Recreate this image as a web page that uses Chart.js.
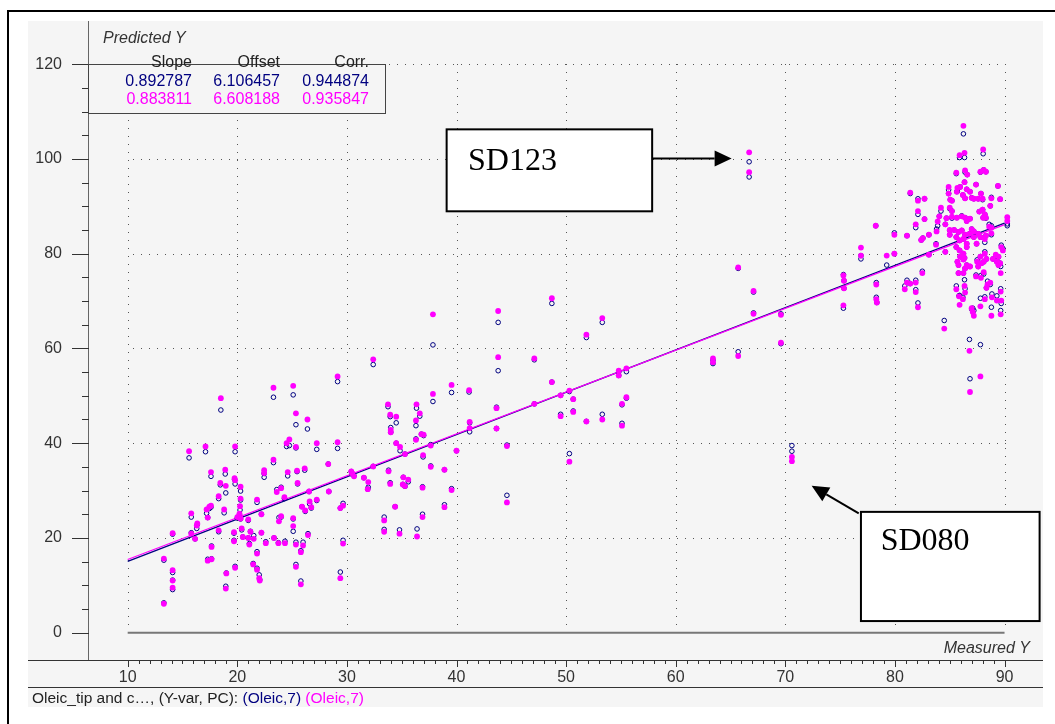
<!DOCTYPE html>
<html>
<head>
<meta charset="utf-8">
<script src="https://cdn.jsdelivr.net/npm/chart.js@4.4.1/dist/chart.umd.min.js"></script>
<style>
  html, body { margin: 0; padding: 0; background: #fff; overflow: hidden; }
  canvas { display: block; }
</style>
</head>
<body>
<canvas id="plot" width="1055" height="724"></canvas>
<script>
// Measured oleic content of each sample (x) and its prediction by two PLS models (y)
const measured = [
  18.5,23.3,25.1,25.35,26.4,15.6,17.1,19.8,24.75,24.5,
  27.25,17.6,18.9,18.45,18.95,18.3,19.8,19.75,20.3,20.3,
  22.45,22.45,23.3,24.6,25.45,25.5,26.15,23.6,24.0,24.3,
  25.9,26.2,26.6,26.75,27.25,25.1,25.1,23.8,24.0,21.8,
  22.2,21.0,20.25,20.2,20.0,20.4,19.7,19.7,18.8,17.2,
  17.45,17.6,17.3,15.8,16.3,16.35,18.3,15.8,16.15,14.1,
  17.65,17.3,17.65,13.3,14.1,14.1,14.1,13.3,19.0,18.95,
  19.8,20.5,21.0,21.2,21.5,21.1,21.45,21.8,22.0,22.05,
  21.8,22.2,22.6,23.35,23.75,24.35,25.35,26.0,25.8,25.35,
  25.8,26.45,25.35,20.3,29.15,29.15,32.4,37.85,39.55,41.15,
  37.85,33.75,33.95,34.5,34.0,34.0,36.35,36.65,36.3,36.3,
  36.8,37.0,34.5,34.85,35.3,36.95,37.65,37.65,40.0,38.9,
  41.2,41.2,30.4,30.5,30.65,32.4,31.55,31.95,31.9,33.8,
  33.95,35.15,35.6,35.3,35.1,36.9,39.55,34.4,38.9,36.9,
  33.4,33.4,34.8,36.4,29.65,29.65,29.4,28.3,28.35,26.55,
  29.4,66.7,66.7,65.7,67.1,67.1,65.7,63.4,63.4,43.8,
  43.8,48.7,47.1,48.7,51.85,53.3,43.65,43.65,44.6,47.1,
  49.5,50.3,50.65,49.5,50.65,50.3,51.85,53.3,54.8,54.8,
  55.5,55.5,55.1,55.1,44.6,69.6,69.6,70.6,70.6,75.3,
  75.35,75.35,75.3,76.9,76.9,78.25,78.3,78.3,78.35,79.25,
  79.95,79.95,81.1,81.4,80.9,81.1,81.4,81.9,81.9,82.1,
  82.1,82.7,82.1,81.9,82.7,82.4,82.55,83.1,82.5,83.8,
  83.75,83.1,84.2,84.05,84.5,84.6,85.0,85.0,85.2,84.9,
  84.9,85.05,85.2,85.7,85.95,85.65,85.6,85.9,86.35,86.25,
  86.4,86.6,86.35,86.2,86.55,86.85,86.4,87.0,87.2,87.4,
  87.6,87.85,88.0,87.8,88.1,88.3,88.05,88.8,89.4,89.6,
  88.7,85.2,85.65,86.1,86.4,86.55,86.85,84.7,84.6,83.9,
  85.0,85.4,85.8,86.1,86.4,86.8,85.6,85.9,86.25,86.55,
  85.6,85.9,86.25,86.55,87.0,87.2,87.2,87.45,87.6,87.8,
  87.7,88.0,88.2,88.3,88.05,88.6,88.8,88.2,88.3,88.8,
  90.25,90.25,89.7,89.85,89.2,89.45,88.95,89.3,89.6,89.45,
  89.65,89.7,89.65,89.65,89.3,88.85,88.8,87.8,88.2,88.35,
  88.45,88.7,87.85,88.1,87.4,87.6,88.2,87.8,88.35,87.9,
  88.1,87.5,86.85,86.35,86.4,86.2,85.85,85.6,85.8,85.8,
  85.7,86.25,86.4,86.55,86.25,85.95,86.35,85.9,87.1,87.0,
  87.2,86.8,87.8,86.85
];

// First model (navy, open circles)
const predictedA = [
  47.0,49.7,50.2,43.9,43.0,36.9,38.2,38.2,39.5,39.3,
  38.7,33.0,33.5,31.2,29.5,28.3,31.4,32.3,29.9,28.0,
  33.6,32.8,35.9,33.1,34.0,31.4,34.3,30.2,30.7,28.3,
  26.6,25.6,27.2,26.3,27.9,24.0,21.4,24.3,24.4,27.5,
  25.0,23.7,25.9,25.0,24.2,21.7,21.0,19.5,25.3,25.2,
  26.2,26.5,24.3,24.4,22.0,22.8,21.3,21.1,19.8,20.8,
  18.3,15.5,15.6,15.3,12.7,11.1,9.1,6.3,12.6,9.8,
  14.0,20.2,20.0,21.4,20.5,18.8,14.6,13.6,12.2,11.2,
  17.1,21.1,19.2,20.0,19.0,19.3,19.1,19.1,17.3,14.4,
  10.9,20.9,39.0,24.0,53.0,38.9,56.6,60.75,50.7,50.8,
  48.8,47.7,45.6,44.3,43.3,42.3,47.4,45.7,43.7,40.9,
  41.9,41.6,40.0,38.4,37.7,37.1,39.7,35.2,38.4,34.4,
  42.4,44.3,34.0,33.4,33.1,35.1,32.7,30.7,30.3,34.3,
  31.65,32.8,31.85,30.9,31.3,30.8,30.4,26.6,27.0,25.0,
  24.4,21.8,21.7,21.9,19.5,27.3,26.3,35.6,29.8,29.8,
  12.8,99.4,96.2,76.9,71.9,67.5,59.3,57.5,56.8,65.5,
  55.3,69.5,57.6,52.9,62.3,65.5,47.6,43.1,39.6,48.3,
  50.1,50.9,49.3,46.1,46.8,37.8,44.6,46.1,55.0,54.3,
  55.1,49.5,48.1,44.2,29.0,67.3,61.0,39.5,38.3,75.6,
  74.3,72.7,68.5,78.9,79.6,85.9,73.9,70.8,69.7,77.6,
  84.4,80.0,83.8,92.7,73.2,74.4,73.7,74.4,72.4,69.6,
  91.6,91.6,88.3,85.5,87.3,82.9,83.3,84.0,76.3,85.2,
  82.1,79.8,89.0,87.9,65.9,80.4,84.0,89.5,89.0,93.5,
  92.7,91.4,91.2,93.2,94.1,93.1,96.9,100.3,100.3,105.3,
  97.2,96.7,95.1,92.4,93.6,93.1,91.7,91.8,91.6,94.6,
  91.6,92.7,91.4,97.2,97.7,97.3,101.1,91.9,94.3,91.5,
  90.1,87.5,87.6,88.0,87.6,86.9,87.4,87.5,86.2,85.9,
  84.9,85.0,84.6,84.9,84.0,84.2,83.5,82.8,83.1,82.1,
  81.4,80.7,80.0,81.4,85.2,84.7,83.5,82.1,84.2,83.5,
  88.9,89.3,88.3,87.5,87.6,86.2,85.9,82.4,83.8,84.0,
  86.3,85.9,81.8,81.1,79.5,79.3,78.9,78.3,78.0,77.6,
  77.3,69.5,72.6,68.0,71.1,71.5,68.7,70.6,70.9,72.8,
  74.2,73.5,75.4,75.7,75.5,77.3,80.4,79.4,78.9,78.0,
  78.3,78.7,77.3,74.5,72.6,70.8,71.1,73.2,75.9,77.6,
  78.3,75.9,76.9,77.6,78.8,79.4,79.1,71.2,68.5,68.3,
  68.0,61.9,60.8,53.6
];

// Second model (magenta, filled dots)
const predictedB = [
  49.5,51.7,52.1,46.3,45.0,38.3,39.3,39.3,40.8,40.0,
  40.0,33.9,34.4,31.6,31.0,28.8,32.2,32.6,30.8,28.3,
  34.3,33.7,36.5,33.9,34.2,31.6,34.7,29.7,30.5,28.6,
  26.6,25.8,27.7,26.5,28.1,24.2,22.5,23.5,24.6,28.1,
  25.0,23.9,26.7,25.1,24.4,22.0,21.2,19.3,26.0,26.0,
  26.6,26.8,24.3,25.2,22.6,23.05,21.6,20.9,19.8,21.0,
  18.1,15.2,15.5,15.65,13.2,11.0,9.5,6.1,12.5,9.3,
  13.7,20.2,20.0,21.3,19.8,18.6,14.4,13.3,11.5,11.0,
  16.7,21.1,18.9,20.0,18.9,18.9,18.6,18.4,17.0,13.9,
  10.2,20.6,39.2,24.1,54.1,40.2,57.7,67.2,52.3,51.2,
  50.4,48.2,46.0,45.6,42.8,42.3,48.2,46.3,44.8,40.7,
  41.9,41.8,40.0,39.2,37.7,37.5,39.5,35.0,38.4,34.4,
  43.2,44.5,34.05,33.6,33.0,35.1,32.7,31.8,30.3,34.05,
  31.4,32.8,32.3,30.95,31.3,30.6,30.1,26.6,26.5,24.4,
  23.7,21.3,20.9,20.3,18.8,26.8,26.3,35.6,29.8,29.8,
  11.5,101.4,97.2,77.1,72.15,67.3,58.4,57.9,57.1,67.9,
  58.15,70.6,57.9,52.9,62.9,66.4,47.4,43.1,39.4,48.3,
  50.1,51.1,49.3,45.7,46.6,36.1,44.6,45.0,55.3,54.3,
  55.8,49.7,48.3,43.7,27.5,67.1,61.2,37.1,36.2,75.4,
  74.3,72.7,69.1,81.3,79.6,85.9,73.5,70.4,69.7,79.6,
  84.0,80.0,83.8,92.9,72.5,73.9,73.7,73.9,71.9,68.7,
  91.2,91.6,89.0,86.2,87.3,82.9,83.3,84.0,75.9,84.7,
  81.9,79.8,89.7,87.9,64.2,80.4,84.0,89.7,89.0,94.1,
  92.7,91.4,91.2,93.9,94.1,93.1,97.1,100.8,101.3,107.0,
  97.6,96.7,95.1,92.4,93.6,93.1,91.7,91.8,91.6,94.6,
  91.6,92.7,91.6,97.3,97.7,97.3,102.0,91.7,94.3,91.5,
  90.1,87.8,87.6,87.9,87.6,86.9,87.4,87.5,86.2,86.8,
  85.0,85.0,84.6,84.9,84.0,84.2,83.5,82.8,83.1,82.1,
  81.4,80.7,80.0,81.4,85.2,84.7,83.5,82.1,84.2,83.5,
  88.9,89.3,88.3,87.6,87.6,85.7,85.5,83.1,83.8,84.3,
  87.7,86.9,81.4,80.7,79.8,79.4,78.9,78.3,78.0,77.6,
  75.9,70.1,72.0,67.2,70.1,70.8,66.9,68.9,70.4,72.8,
  73.5,73.9,74.9,76.1,75.2,77.3,80.0,79.4,78.9,78.0,
  78.3,78.3,77.3,73.2,71.8,70.4,71.0,72.5,75.9,77.6,
  78.3,75.9,76.9,77.6,78.8,79.4,79.1,69.2,67.7,68.5,
  66.9,59.5,54.1,50.8
];

// Regression statistics for the two models (navy, magenta)
const slopes  = [0.892787, 0.883811];
const offsets = [6.106457, 6.608188];
const corrs   = [0.944874, 0.935847];
const statHeaders = ['Slope', 'Offset', 'Corr.'];

// Axis ticks
const xTicks = [10, 20, 30, 40, 50, 60, 70, 80, 90];
const yTicks = [0, 20, 40, 60, 80, 100, 120];
const xMinorStep = 1;
const yMinorStep = 5;

// Callouts pointing at two samples (data coordinates)
const callouts = [
  { text: 'SD123', box: [39.1, 106.25, 57.85, 88.95], textAt: [41.05, 97.75],
    arrowFrom: [57.85, 100.1], arrowTo: [65.1, 100.1] },
  { text: 'SD080', box: [76.9, 25.5, 93.2, 2.45], textAt: [78.7, 17.4],
    arrowFrom: [76.7, 25.2], arrowTo: [72.4, 31.0] }
];

const NAVY = '#000080';
const MAGENTA = '#ff00ff';
const PANEL = '#f5f5f5';
const FONT = '"Liberation Sans", Arial, Helvetica, sans-serif';

const pairs = (ys) => measured.map((x, i) => ({ x: x, y: ys[i] }));
const fitLine = (k) => xTicks.filter((v, i) => i === 0 || i === xTicks.length - 1)
  .map(x => ({ x: x, y: slopes[k] * x + offsets[k] }));

function dotsH(ctx, y, x0, x1) {
  for (let x = x1; x >= x0 - 0.5; x -= 8) ctx.fillRect(Math.round(x), Math.round(y), 1, 1);
}
function dotsV(ctx, x, y0, y1) {
  for (let y = y0; y <= y1 + 0.5; y += 8) ctx.fillRect(Math.round(x), Math.round(y), 1, 1);
}

const framePlugin = {
  id: 'frame',
  beforeDraw(chart) {
    const ctx = chart.ctx;
    const a = chart.chartArea;
    ctx.save();
    ctx.fillStyle = '#ffffff';
    ctx.fillRect(0, 0, chart.width, chart.height);
    ctx.fillStyle = PANEL;
    ctx.fillRect(28, 21, a.right - 28, 707 - 21);
    ctx.fillStyle = '#000';
    ctx.fillRect(7, 10, chart.width - 7, 2);
    ctx.fillRect(7, 10, 2, chart.height - 10);
    ctx.restore();
  },
  beforeDatasetsDraw(chart) {
    const ctx = chart.ctx;
    const a = chart.chartArea;
    const xs = chart.scales.x, ys = chart.scales.y;
    const xLo = xTicks[0], xHi = xTicks[xTicks.length - 1];
    const yLo = yTicks[0], yHi = yTicks[yTicks.length - 1];
    ctx.save();
    // dotted grid
    ctx.fillStyle = '#555';
    xTicks.forEach(v => dotsV(ctx, xs.getPixelForValue(v), ys.getPixelForValue(yHi), ys.getPixelForValue(yLo) - 4));
    yTicks.slice(1).forEach(v => dotsH(ctx, ys.getPixelForValue(v), xs.getPixelForValue(xLo), xs.getPixelForValue(xHi)));
    // zero reference line
    ctx.strokeStyle = '#777';
    ctx.lineWidth = 2;
    ctx.beginPath();
    ctx.moveTo(xs.getPixelForValue(xLo), ys.getPixelForValue(0));
    ctx.lineTo(xs.getPixelForValue(xHi), ys.getPixelForValue(0));
    ctx.stroke();
    // axis lines
    ctx.fillStyle = '#666';
    ctx.fillRect(a.left - 1, 21, 1, a.bottom - 21);
    ctx.fillStyle = '#333';
    ctx.fillRect(28, a.bottom, a.right - 28, 1);
    ctx.fillRect(28, a.bottom + 27, a.right - 28, 1);
    // y ticks
    for (let v = yLo; v <= yHi + 1e-9; v += yMinorStep) {
      const y = Math.round(ys.getPixelForValue(v));
      const major = yTicks.includes(v);
      ctx.fillRect(a.left - (major ? 17 : 7), y, major ? 17 : 7, 1);
    }
    // x ticks
    for (let v = xLo; v <= xHi + 1e-9; v += xMinorStep) {
      const x = Math.round(xs.getPixelForValue(v));
      const major = xTicks.includes(v);
      ctx.fillRect(x, a.bottom, 1, major ? 7 : 4);
    }
    ctx.restore();
  },
  afterDraw(chart) {
    const ctx = chart.ctx;
    const a = chart.chartArea;
    const xs = chart.scales.x, ys = chart.scales.y;
    ctx.save();
    // statistics box
    const top = Math.round(ys.getPixelForValue(yTicks[yTicks.length - 1])) + 0.5;
    const bx0 = a.left - 0.5, bx1 = 385.5, by1 = 113.5;
    ctx.fillStyle = PANEL;
    ctx.fillRect(bx0, top, bx1 - bx0, by1 - top);
    ctx.strokeStyle = '#444';
    ctx.lineWidth = 1;
    ctx.strokeRect(bx0, top, bx1 - bx0, by1 - top);
    ctx.font = '16px ' + FONT;
    ctx.textAlign = 'right';
    ctx.textBaseline = 'alphabetic';
    const cols = [192, 280, 369];
    ctx.fillStyle = '#222';
    statHeaders.forEach((h, i) => ctx.fillText(h, cols[i], 67));
    [[slopes[0], offsets[0], corrs[0]], [slopes[1], offsets[1], corrs[1]]].forEach((row, r) => {
      ctx.fillStyle = r === 0 ? NAVY : MAGENTA;
      row.forEach((v, i) => ctx.fillText(v.toFixed(6), cols[i], 85.5 + r * 18));
    });
    // axis titles
    ctx.fillStyle = '#333';
    ctx.font = 'italic 16px ' + FONT;
    ctx.textAlign = 'left';
    ctx.fillText('Predicted Y', 103, 42.5);
    ctx.textAlign = 'right';
    ctx.fillText('Measured Y', 1030, 653);
    // footer
    ctx.font = '15.5px ' + FONT;
    ctx.textAlign = 'left';
    const parts = [['Oleic_tip and c\u2026, (Y-var, PC): ', '#222'], ['(Oleic,7) ', NAVY], ['(Oleic,7)', MAGENTA]];
    let fx = 32;
    parts.forEach(([t, c]) => { ctx.fillStyle = c; ctx.fillText(t, fx, 703); fx += ctx.measureText(t).width; });
    // callouts
    callouts.forEach(c => {
      const x0 = xs.getPixelForValue(c.box[0]), y0 = ys.getPixelForValue(c.box[1]);
      const x1 = xs.getPixelForValue(c.box[2]), y1 = ys.getPixelForValue(c.box[3]);
      ctx.fillStyle = '#fff';
      ctx.fillRect(x0, y0, x1 - x0, y1 - y0);
      ctx.strokeStyle = '#000';
      ctx.lineWidth = 2;
      ctx.strokeRect(x0, y0, x1 - x0, y1 - y0);
      ctx.fillStyle = '#000';
      ctx.font = '32px "Liberation Serif", "Times New Roman", serif';
      ctx.textAlign = 'left';
      ctx.fillText(c.text, xs.getPixelForValue(c.textAt[0]), ys.getPixelForValue(c.textAt[1]));
      const ax0 = xs.getPixelForValue(c.arrowFrom[0]), ay0 = ys.getPixelForValue(c.arrowFrom[1]);
      const ax1 = xs.getPixelForValue(c.arrowTo[0]), ay1 = ys.getPixelForValue(c.arrowTo[1]);
      const ang = Math.atan2(ay1 - ay0, ax1 - ax0);
      const hl = 17, hw = 8;
      const bxp = ax1 - hl * Math.cos(ang), byp = ay1 - hl * Math.sin(ang);
      ctx.beginPath();
      ctx.moveTo(ax0, ay0);
      ctx.lineTo(bxp, byp);
      ctx.stroke();
      ctx.beginPath();
      ctx.moveTo(ax1, ay1);
      ctx.lineTo(bxp + hw * Math.sin(ang), byp - hw * Math.cos(ang));
      ctx.lineTo(bxp - hw * Math.sin(ang), byp + hw * Math.cos(ang));
      ctx.closePath();
      ctx.fill();
    });
    ctx.restore();
  }
};

new Chart(document.getElementById('plot'), {
  type: 'scatter',
  data: {
    datasets: [
      { label: '(Oleic,7) B', data: pairs(predictedB), pointStyle: 'circle', pointRadius: 2.9,
        backgroundColor: MAGENTA, borderColor: MAGENTA, borderWidth: 0, order: 0 },
      { label: '(Oleic,7) A', data: pairs(predictedA), pointStyle: 'circle', pointRadius: 2.3,
        backgroundColor: 'rgba(0,0,0,0)', borderColor: NAVY, borderWidth: 1, order: 1 },
      { label: 'fit B', type: 'line', data: fitLine(1), borderColor: MAGENTA, borderWidth: 1.3,
        pointRadius: 0, fill: false, order: 2 },
      { label: 'fit A', type: 'line', data: fitLine(0), borderColor: NAVY, borderWidth: 1.3,
        pointRadius: 0, fill: false, order: 3 }
    ]
  },
  options: {
    responsive: false,
    animation: false,
    devicePixelRatio: 1,
    events: [],
    layout: { padding: { left: 0, right: 12, top: 21, bottom: 37 } },
    plugins: { legend: { display: false }, tooltip: { enabled: false } },
    scales: {
      x: {
        type: 'linear', position: 'bottom', min: 6.47, max: 93.51,
        afterBuildTicks: s => { s.ticks = xTicks.map(v => ({ value: v })); },
        afterFit: s => { s.height = 27; },
        grid: { display: false, drawTicks: false },
        border: { display: false },
        ticks: { autoSkip: false, maxRotation: 0, padding: 8, color: '#333',
          font: { family: FONT, size: 16 }, callback: v => String(v) }
      },
      y: {
        type: 'linear', position: 'left', min: -5.77, max: 125.83,
        afterBuildTicks: s => { s.ticks = yTicks.map(v => ({ value: v })); },
        afterFit: s => { s.width = 89; },
        grid: { display: false, drawTicks: false },
        border: { display: false },
        ticks: { autoSkip: false, padding: 27, color: '#333',
          font: { family: FONT, size: 16 }, callback: v => String(v) }
      }
    }
  },
  plugins: [framePlugin]
});
</script>
</body>
</html>
